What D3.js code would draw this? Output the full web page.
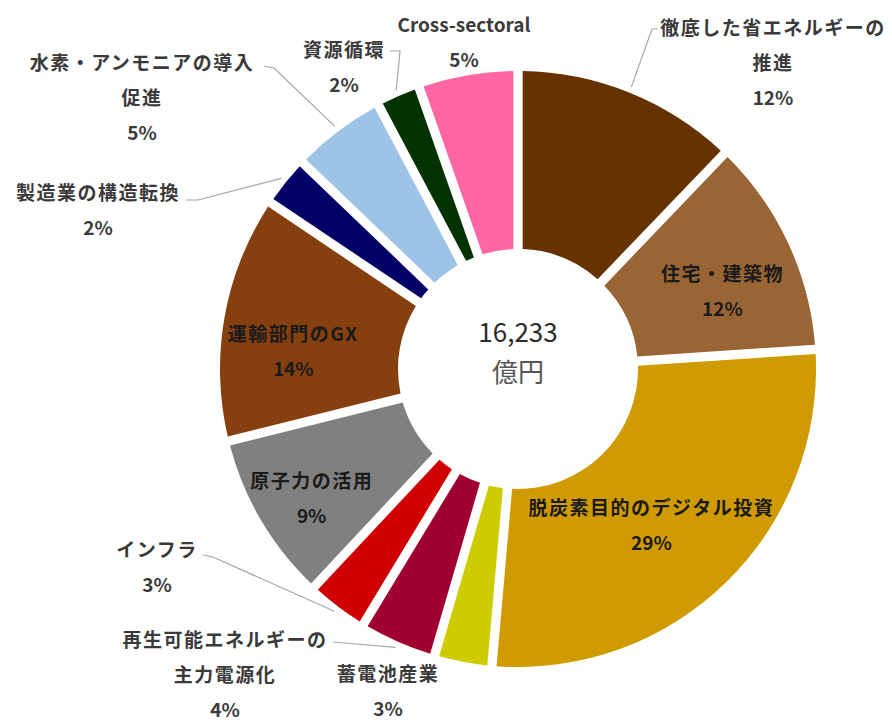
<!DOCTYPE html>
<html>
<head>
<meta charset="utf-8">
<script src="https://cdn.jsdelivr.net/npm/d3@7"></script>
<style>
  body { margin: 0; background: #fff; }
  text { font-family: "Noto Sans CJK JP", "Noto Sans", sans-serif; }
</style>
</head>
<body>
<div id="vis"></div>
<script>
// categories, clockwise from 12 o'clock
var categories = [
  "徹底した省エネルギーの推進",
  "住宅・建築物",
  "脱炭素目的のデジタル投資",
  "蓄電池産業",
  "再生可能エネルギーの主力電源化",
  "インフラ",
  "原子力の活用",
  "運輸部門のGX",
  "製造業の構造転換",
  "水素・アンモニアの導入促進",
  "資源循環",
  "Cross-sectoral"
];

// budget per category, 億円 (sum = 16,233)
var values = [2012, 1948, 4643, 455, 633, 487, 1493, 2208, 390, 795, 325, 844];

var unitLabel = "億円";

// slice colours, same order as categories
var colors = [
  "#663300", "#9a6534", "#cf9b00", "#cccc00", "#a00030", "#d00000",
  "#808080", "#86400f", "#000066", "#9dc3e6", "#003300", "#ff66a3"
];

var width = 892;
var height = 721;
var cx = 518;
var cy = 369;
var outerR = 298;
var innerR = 120;

// how each label is broken into lines
var wrap = {
  "徹底した省エネルギーの推進": ["徹底した省エネルギーの", "推進"],
  "水素・アンモニアの導入促進": ["水素・アンモニアの導入", "促進"],
  "再生可能エネルギーの主力電源化": ["再生可能エネルギーの", "主力電源化"]
};

// labels drawn on the slice: label radius + small nudge
var insideLabels = {
  "住宅・建築物": { r: 220, dx: 5, dy: 16 },
  "脱炭素目的のデジタル投資": { r: 215, dx: -17, dy: 3 },
  "運輸部門のGX": { r: 215, dx: -13, dy: 20 },
  "原子力の活用": { r: 215, dx: -21, dy: 21 }
};

// labels outside the ring: text centre, first line y, leader elbow
var outsideLabels = {
  "徹底した省エネルギーの推進": { x: 773, y: 28, leader: [[658, 29], [652, 29]] },
  "Cross-sectoral": { x: 464, y: 25, leader: null },
  "資源循環": { x: 344, y: 50, leader: [[390, 51], [400, 51]] },
  "水素・アンモニアの導入促進": { x: 142, y: 63, leader: [[264, 66], [274, 68]] },
  "製造業の構造転換": { x: 98, y: 193, leader: [[186, 200], [198, 200]] },
  "インフラ": { x: 157, y: 550, leader: [[203, 555], [213, 557]] },
  "再生可能エネルギーの主力電源化": { x: 225, y: 640, leader: [[333, 642], [345, 643]] },
  "蓄電池産業": { x: 388, y: 674, leader: null }
};

var lineGap = 35;

var data = categories.map(function (c, i) {
  return { name: c, value: values[i], color: colors[i] };
});
var total = d3.sum(values);
var pct = d3.format(".0%");

var svg = d3.select("#vis").append("svg")
  .attr("width", width)
  .attr("height", height);

svg.append("rect")
  .attr("width", width)
  .attr("height", height)
  .attr("fill", "#fff");

var g = svg.append("g")
  .attr("transform", "translate(" + cx + "," + cy + ")");

var pie = d3.pie()
  .sort(null)
  .value(function (d) { return d.value; })
  .padAngle(0.03);

var arc = d3.arc()
  .innerRadius(innerR)
  .outerRadius(outerR)
  .padRadius(310);

var arcs = pie(data);

g.selectAll(".slice")
  .data(arcs)
  .enter()
  .append("path")
  .attr("class", "slice")
  .attr("d", arc)
  .attr("fill", function (d) { return d.data.color; });

// point on the ring at a given radius, mid angle of the slice
function midPoint(d, r) {
  var a = (d.startAngle + d.endAngle) / 2;
  return [r * Math.sin(a), -r * Math.cos(a)];
}

// label lines: name (wrapped) + share of total
function lines(d) {
  return (wrap[d.data.name] || [d.data.name]).concat([pct(d.data.value / total)]);
}

// inside labels
arcs.forEach(function (d) {
  var lay = insideLabels[d.data.name];
  if (!lay) return;
  var p = midPoint(d, lay.r);
  var ls = lines(d);
  var y0 = p[1] + lay.dy - (ls.length - 1) * lineGap / 2;
  ls.forEach(function (t, i) {
    g.append("text")
      .attr("x", p[0] + lay.dx)
      .attr("y", y0 + i * lineGap)
      .attr("dy", "0.35em")
      .attr("text-anchor", "middle")
      .style("font-size", "19px")
      .style("font-weight", "700")
      .style("letter-spacing", /%$/.test(t) ? "0px" : "1.5px")
      .attr("fill", "#1a1a1a")
      .text(t);
  });
});

// outside labels with leader lines
var leaderLine = d3.line();
arcs.forEach(function (d) {
  var lay = outsideLabels[d.data.name];
  if (!lay) return;
  if (lay.leader) {
    var end = midPoint(d, outerR + 6);
    var pts = lay.leader.map(function (p) { return [p[0] - cx, p[1] - cy]; });
    pts.push(end);
    g.append("path")
      .attr("d", leaderLine(pts))
      .attr("fill", "none")
      .attr("stroke", "#a6a6a6")
      .attr("stroke-width", 1.2);
  }
  lines(d).forEach(function (t, i) {
    var latin = /^[\x00-\x7f]+$/.test(t);
    svg.append("text")
      .attr("x", lay.x)
      .attr("y", lay.y + i * lineGap)
      .attr("dy", "0.35em")
      .attr("text-anchor", "middle")
      .style("font-size", "19px")
      .style("font-weight", "700")
      .style("letter-spacing", latin ? "0px" : "1.5px")
      .attr("fill", "#3a3a3a")
      .text(t);
  });
});

// total in the hole
g.append("text")
  .attr("x", 0)
  .attr("y", -36)
  .attr("dy", "0.35em")
  .attr("text-anchor", "middle")
  .style("font-size", "26px")
  .attr("fill", "#2a2a2a")
  .text(d3.format(",")(total));

g.append("text")
  .attr("x", 0)
  .attr("y", 4)
  .attr("dy", "0.35em")
  .attr("text-anchor", "middle")
  .style("font-size", "26px")
  .attr("fill", "#555")
  .text(unitLabel);
</script>
</body>
</html>
